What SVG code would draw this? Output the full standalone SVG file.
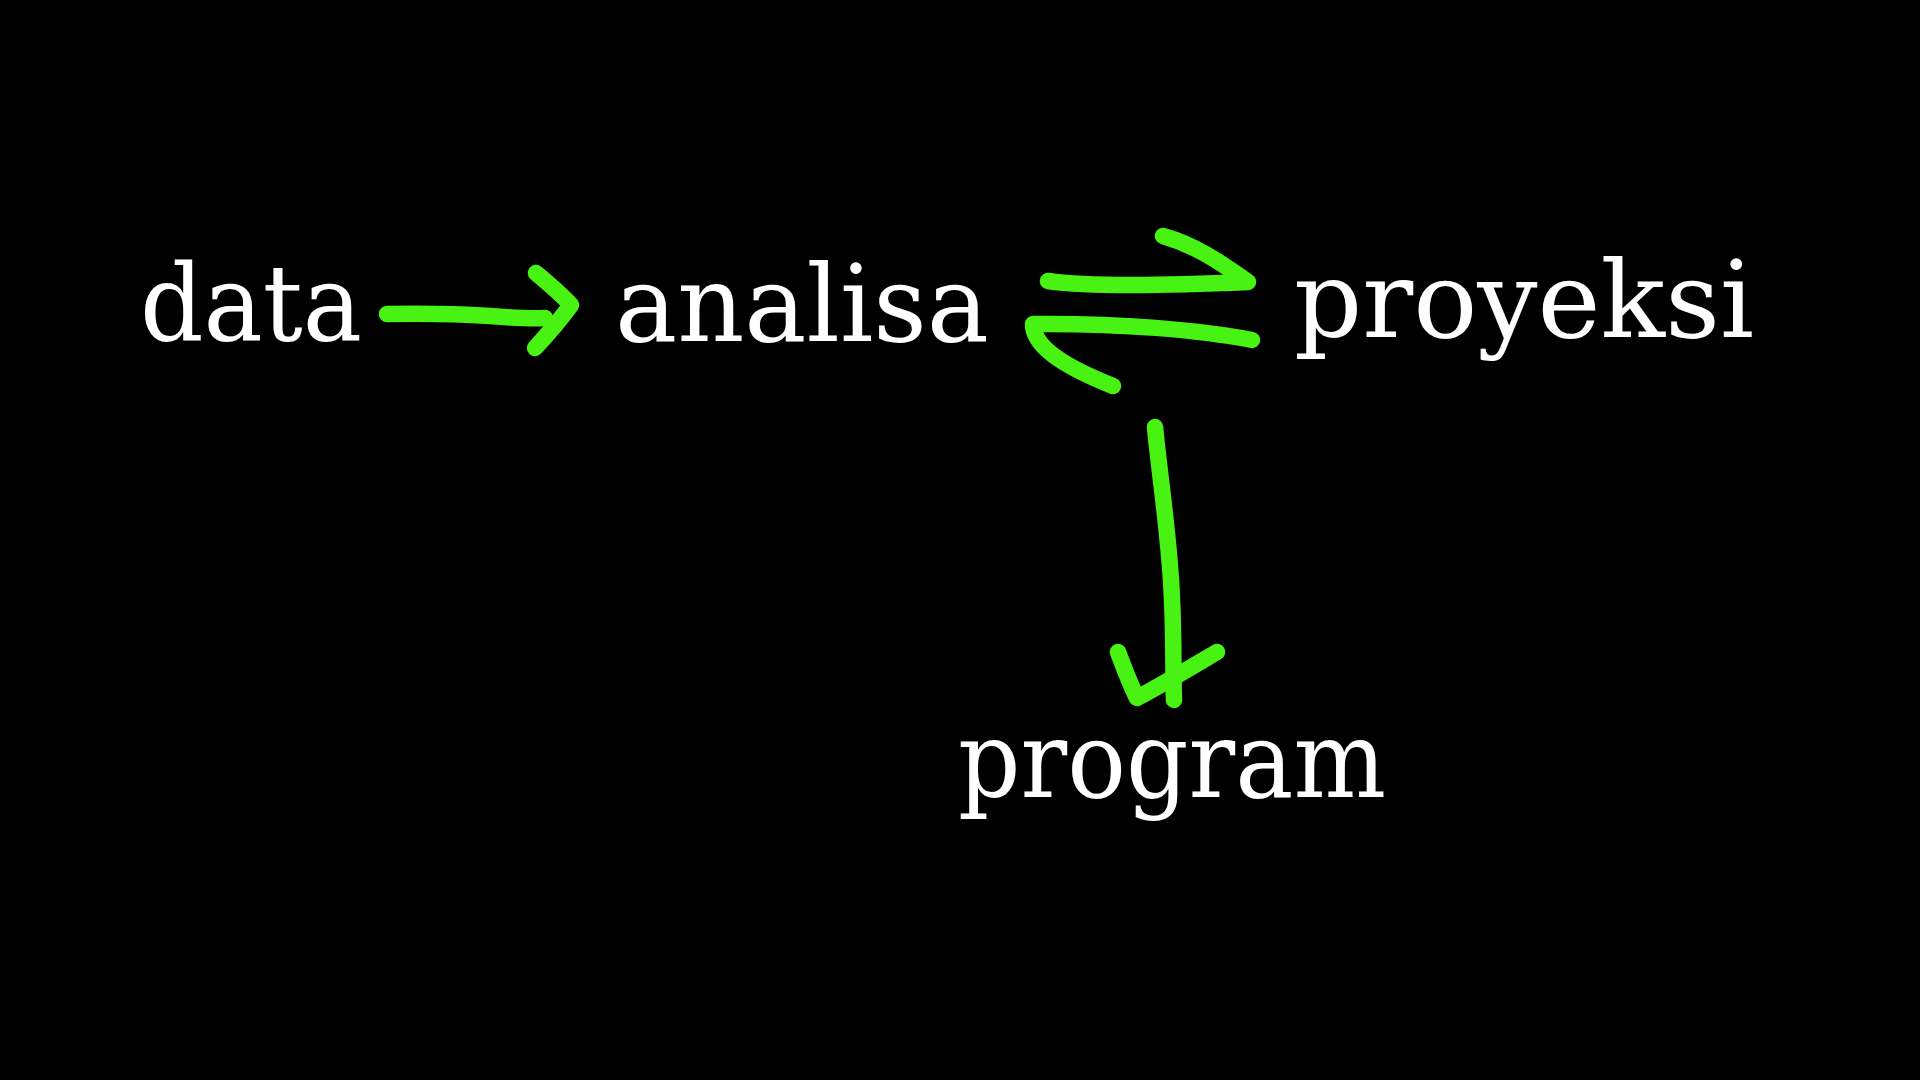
<svg xmlns="http://www.w3.org/2000/svg" width="1920" height="1080" viewBox="0 0 1920 1080">
  <style>
    .lbl { font-family: "DejaVu Serif", "Liberation Serif", serif; font-size: 106px; fill: #ffffff; }
    .pen { fill: none; stroke: #48f212; stroke-width: 16.5; stroke-linecap: round; stroke-linejoin: round; }
  </style>
  <rect x="0" y="0" width="1920" height="1080" fill="#000000"/>
  <g id="node-data">
    <text class="lbl" x="140" y="340" textLength="222" lengthAdjust="spacingAndGlyphs">data</text>
  </g>
  <g id="node-analisa">
    <text class="lbl" x="615" y="341" textLength="374" lengthAdjust="spacingAndGlyphs">analisa</text>
  </g>
  <g id="node-proyeksi">
    <text class="lbl" x="1294" y="337" textLength="460" lengthAdjust="spacingAndGlyphs">proyeksi</text>
  </g>
  <g id="node-program">
    <text class="lbl" x="958" y="797" textLength="428" lengthAdjust="spacingAndGlyphs">program</text>
  </g>
  <g id="connectors">
    <path class="pen" d="M387,314 C430,313 460,314 490,316 C515,318 530,319 545,318"/>
    <path class="pen" d="M536,273 C550,285 562,295 571,305 C560,320 548,334 535,348"/>
    <path class="pen" d="M1048,281 C1090,287 1180,285 1248,282 C1220,262 1195,245 1163,236"/>
    <path class="pen" d="M1252,340 C1200,330 1120,323 1033,324 C1033,345 1060,365 1113,386"/>
    <path class="pen" d="M1155,427 C1160,480 1170,540 1172,600 C1174,640 1173,680 1174,700"/>
    <path class="pen" d="M1118,652 C1124,668 1130,684 1137,698 C1160,686 1190,668 1217,652"/>
  </g>
</svg>
